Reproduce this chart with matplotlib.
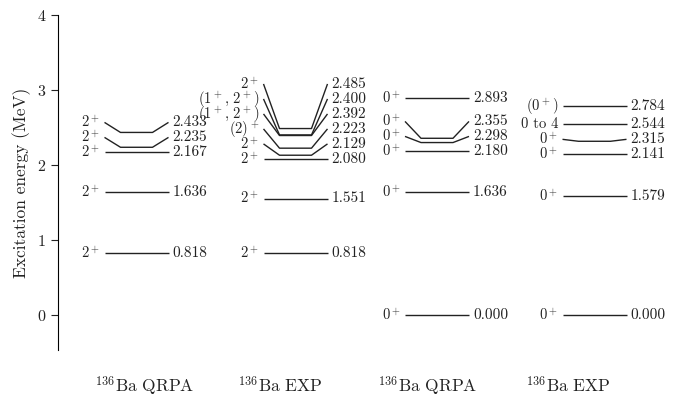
import numpy as np
import matplotlib.pyplot as plt

plt.rcParams['font.family'] = 'serif'
plt.rcParams['font.serif'] = ['cmr10', 'DejaVu Serif']
plt.rcParams['mathtext.fontset'] = 'cm'
plt.rcParams['axes.formatter.use_mathtext'] = True

# level energies (MeV) and spin labels for each column
qrpa2_E = [0.818, 1.636, 2.167, 2.235, 2.433]
qrpa2_J = [r'$2^+$'] * 5
exp2_E = [0.818, 1.551, 2.080, 2.129, 2.223, 2.392, 2.400, 2.485]
exp2_J = [r'$2^+$', r'$2^+$', r'$2^+$', r'$2^+$', r'$(2)^+$',
          r'$(1^+,\,2^+)$', r'$(1^+,\,2^+)$', r'$2^+$']
qrpa0_E = [0.000, 1.636, 2.180, 2.298, 2.355, 2.893]
qrpa0_J = [r'$0^+$'] * 6
exp0_E = [0.000, 1.579, 2.141, 2.315, 2.544, 2.784]
exp0_J = [r'$0^+$', r'$0^+$', r'$0^+$', r'$0^+$', '0 to 4', r'$(0^+)$']

columns = ['$^{136}$Ba QRPA', '$^{136}$Ba EXP', '$^{136}$Ba QRPA', '$^{136}$Ba EXP']

# layout (x in axis units)
col_x = [78.5, 237.5, 379, 536.5]
name_x = [87, 222, 370, 510]
half_w = 32
bend = 16
gap = 0.2


def spread(E, gap):
    # push labels upward so neighbouring ones don't collide
    pos = []
    for e in E:
        p = e if not pos else max(e, pos[-1] + gap)
        pos.append(p)
    return pos


fig = plt.figure(figsize=(6.83, 4.0), dpi=100)
ax = fig.add_axes([58 / 683, 50 / 400, 625 / 683, 335 / 400])

levels = [(qrpa2_E, qrpa2_J), (exp2_E, exp2_J), (qrpa0_E, qrpa0_J), (exp0_E, exp0_J)]
for xc, (E, J) in zip(col_x, levels):
    x0, x1 = xc - half_w, xc + half_w
    ypos = spread(E, gap)
    for e, j, yl in zip(E, J, ypos):
        ax.plot([x0, x0 + bend, x1 - bend, x1], [yl, e, e, yl],
                color='#222222', lw=1.0, solid_capstyle='butt')
        ax.text(x0 - 4, yl, j, ha='right', va='center', fontsize=10.5,
                color='#222222')
        ax.text(x1 + 4, yl, f'{e:.3f}', ha='left', va='center',
                fontsize=11, color='#222222')

ax.set_xlim(0, 625)
ax.set_ylim(-0.47, 4.0)
ax.set_yticks([0, 1, 2, 3, 4])
ax.tick_params(axis='y', labelsize=11.5, length=5, colors='#222222')
ax.set_ylabel('Excitation energy (MeV)', fontsize=12.5, color='#222222')
ax.set_xticks(name_x)
ax.set_xticklabels(columns, fontsize=12.5, color='#222222')
ax.tick_params(axis='x', length=0, pad=18)
for s in ['top', 'right', 'bottom']:
    ax.spines[s].set_visible(False)

fig.savefig('out.png', dpi=100)
